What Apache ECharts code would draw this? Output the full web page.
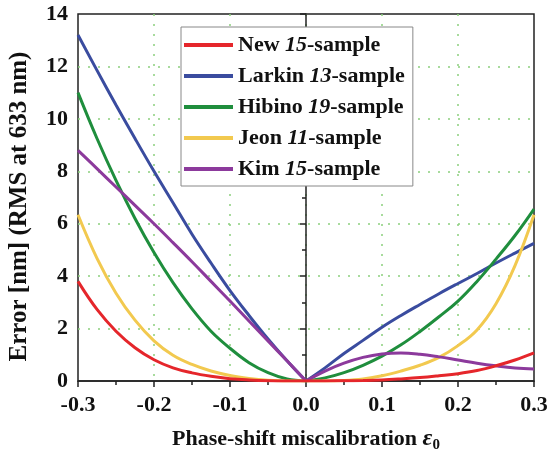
<!DOCTYPE html>
<html>
<head>
<meta charset="utf-8">
<script src="https://cdn.jsdelivr.net/npm/echarts@6/dist/echarts.min.js"></script>
<style>
  html, body { margin: 0; padding: 0; background: #fff; }
  #main { width: 549px; height: 456px; }
</style>
</head>
<body>
<div id="main"></div>
<script>
// phase-shift miscalibration (x)
const xs = [-0.3, -0.275, -0.25, -0.225, -0.2, -0.175, -0.15, -0.125, -0.1, -0.075, -0.05, -0.025, 0,
  0.025, 0.05, 0.075, 0.1, 0.125, 0.15, 0.175, 0.2, 0.225, 0.25, 0.275, 0.3];

// RMS error [nm]
const newErr = [3.8, 2.73, 1.9, 1.27, 0.81, 0.5, 0.31, 0.18, 0.09, 0.04, 0.01, 0, 0,
  0, 0.01, 0.02, 0.04, 0.08, 0.13, 0.2, 0.28, 0.4, 0.58, 0.8, 1.07];
const larkinErr = [13.2, 11.85, 10.53, 9.25, 8.0, 6.8, 5.6, 4.5, 3.45, 2.5, 1.6, 0.77, 0,
  0.5, 1.05, 1.55, 2.05, 2.5, 2.92, 3.33, 3.72, 4.1, 4.5, 4.88, 5.25];
const hibinoErr = [11.0, 9.25, 7.65, 6.2, 4.9, 3.75, 2.75, 1.9, 1.25, 0.7, 0.32, 0.08, 0,
  0.12, 0.32, 0.6, 0.95, 1.38, 1.89, 2.45, 3.05, 3.8, 4.65, 5.55, 6.56];
const jeonErr = [6.34, 4.68, 3.35, 2.32, 1.53, 0.98, 0.63, 0.38, 0.21, 0.1, 0.03, 0, 0,
  0, 0.02, 0.08, 0.2, 0.38, 0.6, 0.9, 1.35, 1.95, 2.95, 4.4, 6.34];
const kimErr = [8.8, 8.1, 7.4, 6.7, 6.0, 5.28, 4.55, 3.8, 3.05, 2.29, 1.53, 0.77, 0,
  0.38, 0.68, 0.9, 1.03, 1.07, 1.02, 0.92, 0.8, 0.68, 0.58, 0.5, 0.46];

// legend text: name, sample count, suffix
const names = ["New 15-sample", "Larkin 13-sample", "Hibino 19-sample", "Jeon 11-sample", "Kim 15-sample"];
const colors = ["#e5262b", "#3a4c9f", "#1f8e3d", "#f2c94f", "#8c3a9c"];
const curves = [newErr, larkinErr, hibinoErr, jeonErr, kimErr];

const font = "'Liberation Serif', 'Times New Roman', serif";

let myChart = echarts.init(document.getElementById("main"));

// each curve is drawn as two halves so the V at 0 stays sharp
let series = [];
let drawOrder = [1, 2, 3, 4, 0];
drawOrder.forEach((k) => {
  let pts = xs.map((x, i) => [x, curves[k][i]]);
  let mid = xs.indexOf(0);
  [pts.slice(0, mid + 1), pts.slice(mid)].forEach((part) => {
    series.push({
      name: names[k],
      type: "line",
      smooth: 0.4,
      showSymbol: false,
      symbol: "none",
      data: part,
      itemStyle: { color: colors[k] },
      lineStyle: { color: colors[k], width: 3 },
      z: k === 0 ? 5 : 3,
    });
  });
});

let axisLabelStyle = {
  fontFamily: font,
  fontWeight: "bold",
  fontSize: 22,
  color: "#111",
};

let gridLine = {
  show: true,
  showMinLine: false,
  showMaxLine: false,
  lineStyle: {
    type: [2, 8],
    width: 1.5,
    color: "#8ccf7e",
  },
};

let option = {
  animation: false,
  grid: {
    left: 78,
    right: 15,
    top: 14,
    bottom: 75,
    outerBoundsMode: "none",
    show: true,
    borderColor: "#222",
    borderWidth: 1.5,
  },
  legend: {
    data: names,
    orient: "vertical",
    left: 181,
    top: 27,
    padding: [6, 8, 5, 3],
    itemWidth: 49,
    itemHeight: 4,
    itemGap: 7,
    icon: "rect",
    backgroundColor: "#fff",
    borderColor: "#888",
    borderWidth: 1,
    formatter: (name) => {
      let m = name.match(/^(\S+) (\d+)(-sample)$/);
      return "{b|" + m[1] + " }{i|" + m[2] + "}{b|" + m[3] + "}";
    },
    textStyle: {
      fontFamily: font,
      fontSize: 22,
      fontWeight: "bold",
      color: "#111",
      lineHeight: 24,
      rich: {
        b: { fontFamily: font, fontSize: 22, fontWeight: "bold", color: "#111", lineHeight: 24 },
        i: { fontFamily: font, fontSize: 22, fontWeight: "bold", fontStyle: "italic", color: "#111", lineHeight: 24 },
      },
    },
  },
  xAxis: {
    type: "value",
    min: -0.3,
    max: 0.3,
    interval: 0.1,
    name: "{b|Phase-shift miscalibration }{e|ε}{s|0}",
    nameLocation: "middle",
    nameGap: 44,
    nameTextStyle: {
      rich: {
        b: { fontFamily: font, fontSize: 22, fontWeight: "bold", color: "#111", lineHeight: 28 },
        e: { fontFamily: font, fontSize: 24, fontWeight: "bold", fontStyle: "italic", color: "#111", lineHeight: 28 },
        s: { fontFamily: font, fontSize: 15, fontWeight: "bold", color: "#111", lineHeight: 14, verticalAlign: "bottom" },
      },
    },
    axisLine: { show: true, onZero: false, lineStyle: { color: "#222", width: 1.5 } },
    axisTick: { show: true, inside: false, length: 6, lineStyle: { color: "#222", width: 1.5 } },
    minorTick: { show: true, splitNumber: 2, length: 4, lineStyle: { color: "#222", width: 1.5 } },
    axisLabel: Object.assign({
      margin: 13,
      formatter: (v) => (Math.abs(v) < 1e-9 ? "0.0" : v.toFixed(1)),
    }, axisLabelStyle),
    splitLine: gridLine,
  },
  yAxis: {
    type: "value",
    min: 0,
    max: 14,
    interval: 2,
    name: "Error [nm] (RMS at 633 nm)",
    nameLocation: "middle",
    nameGap: 46,
    nameTextStyle: {
      fontFamily: font,
      fontSize: 25,
      fontWeight: "bold",
      color: "#111",
      padding: [0, 18, 0, 0],
    },
    axisLine: { show: true, lineStyle: { color: "#222", width: 1.5 } },
    axisTick: { show: true, inside: false, length: 6, lineStyle: { color: "#222", width: 1.5 } },
    minorTick: { show: true, splitNumber: 2, length: 4, lineStyle: { color: "#222", width: 1.5 } },
    axisLabel: Object.assign({ margin: 10 }, axisLabelStyle),
    splitLine: gridLine,
  },
  series: series,
};
myChart.setOption(option);
</script>
</body>
</html>
